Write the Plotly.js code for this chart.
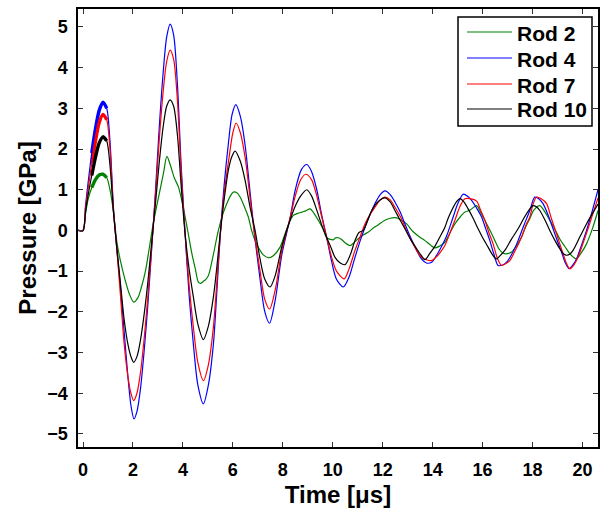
<!DOCTYPE html>
<html>
<head>
<meta charset="utf-8">
<script src="https://cdn.plot.ly/plotly-3.0.1.min.js"></script>
<style>html,body{margin:0;padding:0;background:#fff;}#chart{width:602px;height:508px;}</style>
</head>
<body>
<div id="chart"></div>
<script>
// Rod 2 (green)
const tRod2 = [-0.2,0,0.1,0.2,0.35,0.5,0.65,0.8,0.95,1.08,1.22,1.36,1.5,1.68,1.85,2.03,2.2,2.34,2.5,2.65,2.81,2.95,3.08,3.22,3.36,3.5,3.65,3.82,3.95,4.09,4.22,4.36,4.5,4.62,4.72,4.82,4.92,5.02,5.2,5.42,5.6,5.76,5.9,6.02,6.15,6.29,6.45,6.62,6.75,6.89,7.09,7.22,7.42,7.62,7.89,8.16,8.3,8.42,8.6,8.76,8.92,9.09,9.25,9.42,9.6,9.76,9.9,10.02,10.12,10.22,10.35,10.49,10.69,10.85,11.03,11.25,11.43,11.6,11.8,12.09,12.3,12.56,12.75,12.96,13.2,13.45,13.69,13.9,14.09,14.29,14.49,14.7,14.89,15.1,15.29,15.5,15.76,15.92,16.09,16.3,16.49,16.65,16.82,17.0,17.16,17.35,17.56,17.72,17.89,18.05,18.29,18.5,18.69,18.9,19.09,19.3,19.49,19.62,19.76,19.95,20.16,20.4,20.62];
const pRod2 = [0,0,0.4,0.75,1.05,1.25,1.36,1.38,1.3,1.0,0.45,-0.3,-0.75,-1.2,-1.55,-1.76,-1.65,-1.39,-1.0,-0.45,0.16,0.6,0.98,1.4,1.82,1.6,1.3,1.07,0.75,0.33,-0.1,-0.57,-0.95,-1.27,-1.3,-1.25,-1.2,-1.11,-0.65,0.0,0.4,0.66,0.85,0.94,0.93,0.82,0.6,0.33,0.0,-0.25,-0.49,-0.6,-0.67,-0.62,-0.41,0.04,0.25,0.37,0.42,0.45,0.48,0.53,0.42,0.25,0.05,-0.18,-0.22,-0.23,-0.18,-0.18,-0.22,-0.3,-0.37,-0.3,-0.2,-0.1,-0.04,0.05,0.13,0.25,0.3,0.31,0.25,0.16,-0.02,-0.15,-0.25,-0.35,-0.43,-0.38,-0.29,-0.05,0.16,0.33,0.45,0.5,0.61,0.45,0.25,0.0,-0.25,-0.45,-0.56,-0.57,-0.53,-0.38,-0.16,0.08,0.29,0.5,0.61,0.45,0.25,0.02,-0.21,-0.4,-0.57,-0.65,-0.7,-0.55,-0.33,0.05,0.49];

// Rod 4 (blue)
const tRod4 = [-0.2,0,0.1,0.2,0.35,0.5,0.65,0.8,0.95,1.08,1.22,1.36,1.5,1.65,1.8,1.92,2.04,2.16,2.3,2.45,2.6,2.75,2.9,3.05,3.2,3.35,3.49,3.63,3.78,3.93,4.09,4.25,4.42,4.6,4.82,5.02,5.22,5.35,5.49,5.65,5.82,5.97,6.12,6.3,6.49,6.68,6.85,7.09,7.28,7.47,7.7,7.96,8.29,8.5,8.75,8.96,9.15,9.36,9.55,9.76,9.95,10.15,10.42,10.65,10.89,11.1,11.29,11.5,11.69,11.9,12.09,12.3,12.49,12.7,12.89,13.1,13.36,13.55,13.75,13.96,14.15,14.35,14.55,14.82,15.0,15.22,15.4,15.56,15.76,15.96,16.12,16.29,16.45,16.62,16.8,16.96,17.2,17.42,17.65,17.89,18.09,18.25,18.42,18.62,18.82,19.0,19.16,19.3,19.46,19.6,19.76,19.95,20.16,20.4,20.62];
const pRod4 = [0,0,0.6,1.15,1.9,2.5,2.95,3.15,3.0,2.2,0.55,-0.5,-1.4,-2.5,-3.6,-4.3,-4.63,-4.45,-3.9,-2.95,-1.8,-0.45,0.95,2.5,3.8,4.75,5.07,4.8,3.6,1.6,-0.1,-1.6,-2.8,-3.8,-4.26,-3.8,-2.8,-1.6,-0.16,1.1,2.13,2.85,3.09,2.8,2.1,1.0,0.0,-1.2,-2.0,-2.28,-1.7,-0.6,0.3,1.0,1.5,1.62,1.45,1.0,0.4,-0.18,-0.75,-1.2,-1.39,-1.15,-0.66,-0.25,0.08,0.4,0.66,0.88,0.97,0.88,0.7,0.45,0.16,-0.15,-0.49,-0.7,-0.8,-0.78,-0.62,-0.4,-0.15,0.33,0.65,0.89,0.84,0.74,0.55,0.33,0.05,-0.25,-0.58,-0.86,-0.85,-0.78,-0.55,-0.25,0.12,0.49,0.82,0.78,0.66,0.38,0.04,-0.27,-0.53,-0.78,-0.94,-0.86,-0.7,-0.38,0.0,0.5,1.0];

// Rod 7 (red)
const tRod7 = [-0.2,0,0.1,0.2,0.35,0.5,0.65,0.8,0.95,1.08,1.22,1.36,1.5,1.65,1.8,1.92,2.03,2.16,2.3,2.45,2.6,2.75,2.9,3.05,3.2,3.35,3.49,3.63,3.78,3.93,4.09,4.25,4.42,4.6,4.82,5.02,5.22,5.35,5.49,5.65,5.85,6.0,6.13,6.3,6.49,6.68,6.85,7.09,7.28,7.47,7.7,7.96,8.29,8.5,8.72,8.92,9.15,9.36,9.55,9.76,9.95,10.15,10.46,10.65,10.89,11.1,11.29,11.5,11.69,11.9,12.09,12.3,12.49,12.7,12.89,13.1,13.36,13.55,13.75,13.96,14.15,14.29,14.49,14.7,14.89,15.1,15.29,15.5,15.76,15.92,16.09,16.25,16.42,16.6,16.76,16.92,17.09,17.3,17.56,17.75,17.89,18.02,18.16,18.35,18.56,18.75,18.96,19.1,19.22,19.35,19.49,19.65,19.82,20.0,20.22,20.42,20.62];
const pRod7 = [0,0,0.55,1.0,1.65,2.2,2.65,2.85,2.72,2.0,0.5,-0.5,-1.6,-2.8,-3.6,-4.0,-4.18,-4.0,-3.5,-2.65,-1.6,-0.4,0.85,2.2,3.35,4.15,4.43,4.2,3.2,1.45,-0.1,-1.35,-2.38,-3.25,-3.69,-3.3,-2.38,-1.35,-0.16,0.9,1.8,2.4,2.64,2.4,1.8,0.85,0.0,-1.0,-1.7,-1.93,-1.45,-0.5,0.3,0.85,1.25,1.38,1.25,0.85,0.35,-0.18,-0.65,-1.0,-1.19,-0.95,-0.49,-0.15,0.16,0.4,0.57,0.75,0.82,0.75,0.57,0.35,0.08,-0.2,-0.49,-0.66,-0.72,-0.74,-0.65,-0.55,-0.37,-0.05,0.25,0.6,0.78,0.78,0.72,0.5,0.25,-0.05,-0.33,-0.7,-0.86,-0.82,-0.74,-0.5,-0.16,0.15,0.33,0.65,0.82,0.78,0.66,0.3,-0.08,-0.35,-0.57,-0.8,-0.94,-0.85,-0.66,-0.35,0.04,0.42,0.8];

// Rod 10 (black)
const tRod10 = [-0.2,0,0.1,0.2,0.35,0.5,0.65,0.8,0.95,1.08,1.22,1.36,1.5,1.65,1.8,1.92,2.03,2.16,2.3,2.45,2.6,2.75,2.9,3.05,3.2,3.35,3.49,3.63,3.78,3.93,4.09,4.25,4.42,4.6,4.82,5.02,5.22,5.35,5.49,5.65,5.82,5.95,6.09,6.3,6.49,6.68,6.89,7.09,7.28,7.49,7.7,7.96,8.29,8.5,8.72,8.96,9.15,9.36,9.55,9.76,9.95,10.09,10.3,10.49,10.7,10.89,11.05,11.22,11.4,11.56,11.8,12.09,12.3,12.49,12.7,12.89,13.1,13.36,13.55,13.69,13.9,14.09,14.29,14.49,14.62,14.76,14.95,15.09,15.25,15.42,15.62,15.82,16.02,16.22,16.4,16.56,16.7,16.89,17.15,17.42,17.65,17.89,18.02,18.15,18.29,18.5,18.69,18.9,19.09,19.25,19.36,19.5,19.62,19.9,20.16,20.4,20.62];
const pRod10 = [0,0,0.45,0.85,1.35,1.8,2.15,2.3,2.2,1.6,0.45,-0.45,-1.3,-2.2,-2.8,-3.1,-3.24,-3.1,-2.7,-2.05,-1.25,-0.3,0.65,1.65,2.5,3.05,3.21,3.05,2.35,1.1,-0.1,-0.95,-1.64,-2.3,-2.68,-2.35,-1.64,-0.95,-0.1,0.75,1.48,1.8,1.95,1.7,1.23,0.6,0.0,-0.7,-1.2,-1.39,-1.1,-0.4,0.25,0.6,0.85,1.0,0.85,0.5,0.15,-0.18,-0.45,-0.66,-0.8,-0.84,-0.6,-0.25,-0.05,0.0,0.25,0.49,0.7,0.8,0.7,0.49,0.25,0.04,-0.2,-0.45,-0.62,-0.72,-0.55,-0.39,-0.16,0.08,0.3,0.49,0.7,0.78,0.7,0.53,0.3,0.04,-0.2,-0.41,-0.6,-0.7,-0.62,-0.49,-0.22,0.04,0.3,0.53,0.61,0.58,0.49,0.25,0.0,-0.25,-0.45,-0.58,-0.61,-0.58,-0.49,-0.15,0.16,0.42,0.65];

const seriesNames = ['Rod 2','Rod 4','Rod 7','Rod 10'];
const seriesColors = ['#008000','#0000ff','#ff0000','#000000'];
const xTickVals = [0,2,4,6,8,10,12,14,16,18,20];
const yTickVals = [-5,-4,-3,-2,-1,0,1,2,3,4,5];

const tArr = [tRod2,tRod4,tRod7,tRod10];
const pArr = [pRod2,pRod4,pRod7,pRod10];

const traces = [];
// thick (noisy) band around first peak
for (let i = 0; i < 4; i++) {
  const xs = [], ys = [];
  tArr[i].forEach((t, k) => { if (t >= 0.3 && t <= 1.05) { xs.push(t); ys.push(pArr[i][k]); } });
  traces.push({x: xs, y: ys, type: 'scatter', mode: 'lines', showlegend: false, hoverinfo: 'skip',
    line: {color: seriesColors[i], width: 3.4, shape: 'spline', smoothing: 0.8}});
}
for (let i = 0; i < 4; i++) {
  traces.push({x: tArr[i], y: pArr[i], type: 'scatter', mode: 'lines', name: seriesNames[i], showlegend: false,
    line: {color: seriesColors[i], width: 1.2, shape: 'spline', smoothing: 0.8}});
}

// Legend drawn in the top-right corner of the plot area (pixel layout -> paper coords)
const plotL = 78, plotR = 598, plotT = 9, plotB = 447;
const px2x = px => (px - plotL) / (plotR - plotL);
const py2y = py => (plotB - py) / (plotB - plotT);
const shapes = [{type: 'rect', xref: 'paper', yref: 'paper', x0: px2x(458), x1: px2x(592), y0: py2y(126), y1: py2y(17),
  line: {color: '#000', width: 1.5}, fillcolor: '#fff', layer: 'above'}];
const annotations = [];
const rowY = [33, 59, 85, 110];
const fontFam = 'Liberation Sans, Arial, Helvetica, sans-serif';
for (let i = 0; i < 4; i++) {
  shapes.push({type: 'line', xref: 'paper', yref: 'paper', x0: px2x(467), x1: px2x(512), y0: py2y(rowY[i]-1), y1: py2y(rowY[i]-1),
    line: {color: seriesColors[i], width: 1.2}, layer: 'above'});
  annotations.push({xref: 'paper', yref: 'paper', x: px2x(515), y: py2y(rowY[i]), xanchor: 'left', yanchor: 'middle',
    text: seriesNames[i], showarrow: false, font: {family: fontFam, size: 21, weight: 'bold', color: '#000'}});
}

const layout = {
  width: 602, height: 508,
  margin: {l: 78, r: 4, t: 9, b: 61},
  paper_bgcolor: '#ffffff', plot_bgcolor: '#ffffff',
  font: {family: fontFam, size: 18, color: '#000', weight: 'bold'},
  showlegend: false,
  shapes: shapes, annotations: annotations,
  xaxis: {
    range: [-0.2, 20.62], tickvals: xTickVals, ticks: 'inside', ticklen: 5, tickwidth: 1, tickcolor: '#333',
    showline: true, linecolor: '#000', linewidth: 1.6, mirror: 'allticks', showgrid: false, zeroline: false,
    tickfont: {family: fontFam, size: 18, weight: 'bold', color: '#000'}, ticklabelstandoff: 6,
    title: {text: 'Time [μs]', font: {family: fontFam, size: 24, weight: 'bold', color: '#000'}, standoff: 8}
  },
  yaxis: {
    range: [-5.32, 5.44], tickvals: yTickVals, ticks: 'inside', ticklen: 5, tickwidth: 1, tickcolor: '#333',
    showline: true, linecolor: '#000', linewidth: 1.6, mirror: 'allticks', showgrid: false, zeroline: false,
    tickfont: {family: fontFam, size: 18, weight: 'bold', color: '#000'}, ticklabelstandoff: 5,
    title: {text: 'Pressure [GPa]', font: {family: fontFam, size: 24, weight: 'bold', color: '#000'}, standoff: 4}
  }
};

Plotly.newPlot('chart', traces, layout, {displayModeBar: false, staticPlot: true});
</script>
</body>
</html>
